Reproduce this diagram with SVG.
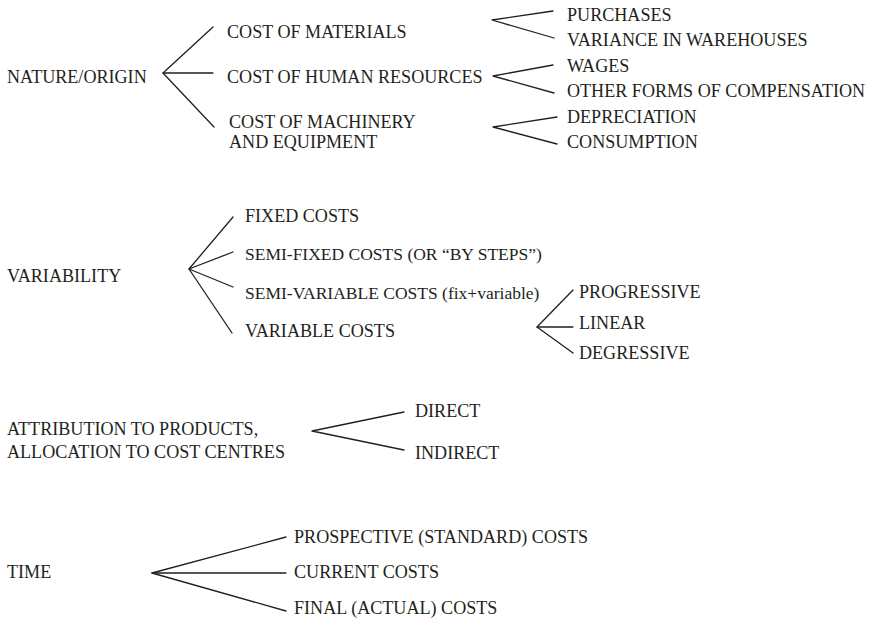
<svg xmlns="http://www.w3.org/2000/svg" width="875" height="624" viewBox="0 0 875 624">
<style>
.t text{font-size:18.1px;fill:#231f20}
.t text.s{font-size:17.5px}
.c{fill:none;stroke:#231f20;stroke-width:1.3;stroke-linecap:round;stroke-linejoin:round}
</style>
<rect width="875" height="624" fill="#fff"/>
<g id="connectors" class="c">
<polyline points="213,27 163,73 214,127"/><line x1="163" y1="73" x2="213" y2="73"/>
<polyline points="553,11 492,20 554,38"/>
<polyline points="553,65 493,76 554,93"/>
<polyline points="557,117 493,127 557,144"/>
<polyline points="233,217 189,269 233,252"/><polyline points="233,287 189,269 232,333"/>
<polyline points="573,290 537,327 573,353"/><line x1="537" y1="327" x2="573" y2="327"/>
<polyline points="404,412 312,431 404,450"/>
<polyline points="286,537 152,573 286,611"/><line x1="152" y1="573" x2="286" y2="573"/>
</g>
<g class="t" font-family="'Liberation Serif', 'Times New Roman', 'DejaVu Serif', serif">
<g id="nature"><text x="7" y="83">NATURE/ORIGIN</text></g>
<g id="materials"><text x="227" y="38">COST OF MATERIALS</text></g>
<g id="human"><text x="227" y="83">COST OF HUMAN RESOURCES</text></g>
<g id="machinery"><text x="229" y="128">COST OF MACHINERY</text><text x="229" y="148">AND EQUIPMENT</text></g>
<g id="purchases"><text x="567" y="21">PURCHASES</text></g>
<g id="variance"><text x="567" y="46">VARIANCE IN WAREHOUSES</text></g>
<g id="wages"><text x="567" y="72">WAGES</text></g>
<g id="other"><text x="567" y="97">OTHER FORMS OF COMPENSATION</text></g>
<g id="depreciation"><text x="567" y="123">DEPRECIATION</text></g>
<g id="consumption"><text x="567" y="148">CONSUMPTION</text></g>
<g id="variability"><text x="7" y="282">VARIABILITY</text></g>
<g id="fixed"><text x="245" y="222">FIXED COSTS</text></g>
<g id="semifixed"><text class="s" x="245" y="260">SEMI-FIXED COSTS (OR “BY STEPS”)</text></g>
<g id="semivariable"><text class="s" x="245" y="299">SEMI-VARIABLE COSTS (fix+variable)</text></g>
<g id="variable"><text x="245" y="337">VARIABLE COSTS</text></g>
<g id="progressive"><text x="579" y="298">PROGRESSIVE</text></g>
<g id="linear"><text x="579" y="329">LINEAR</text></g>
<g id="degressive"><text x="579" y="359">DEGRESSIVE</text></g>
<g id="attribution"><text x="7" y="435">ATTRIBUTION TO PRODUCTS,</text><text x="7" y="458">ALLOCATION TO COST CENTRES</text></g>
<g id="direct"><text x="415" y="417">DIRECT</text></g>
<g id="indirect"><text x="415" y="459">INDIRECT</text></g>
<g id="time"><text x="7" y="578">TIME</text></g>
<g id="prospective"><text x="294" y="543">PROSPECTIVE (STANDARD) COSTS</text></g>
<g id="current"><text x="294" y="578">CURRENT COSTS</text></g>
<g id="final"><text x="294" y="614">FINAL (ACTUAL) COSTS</text></g>
</g>
</svg>
